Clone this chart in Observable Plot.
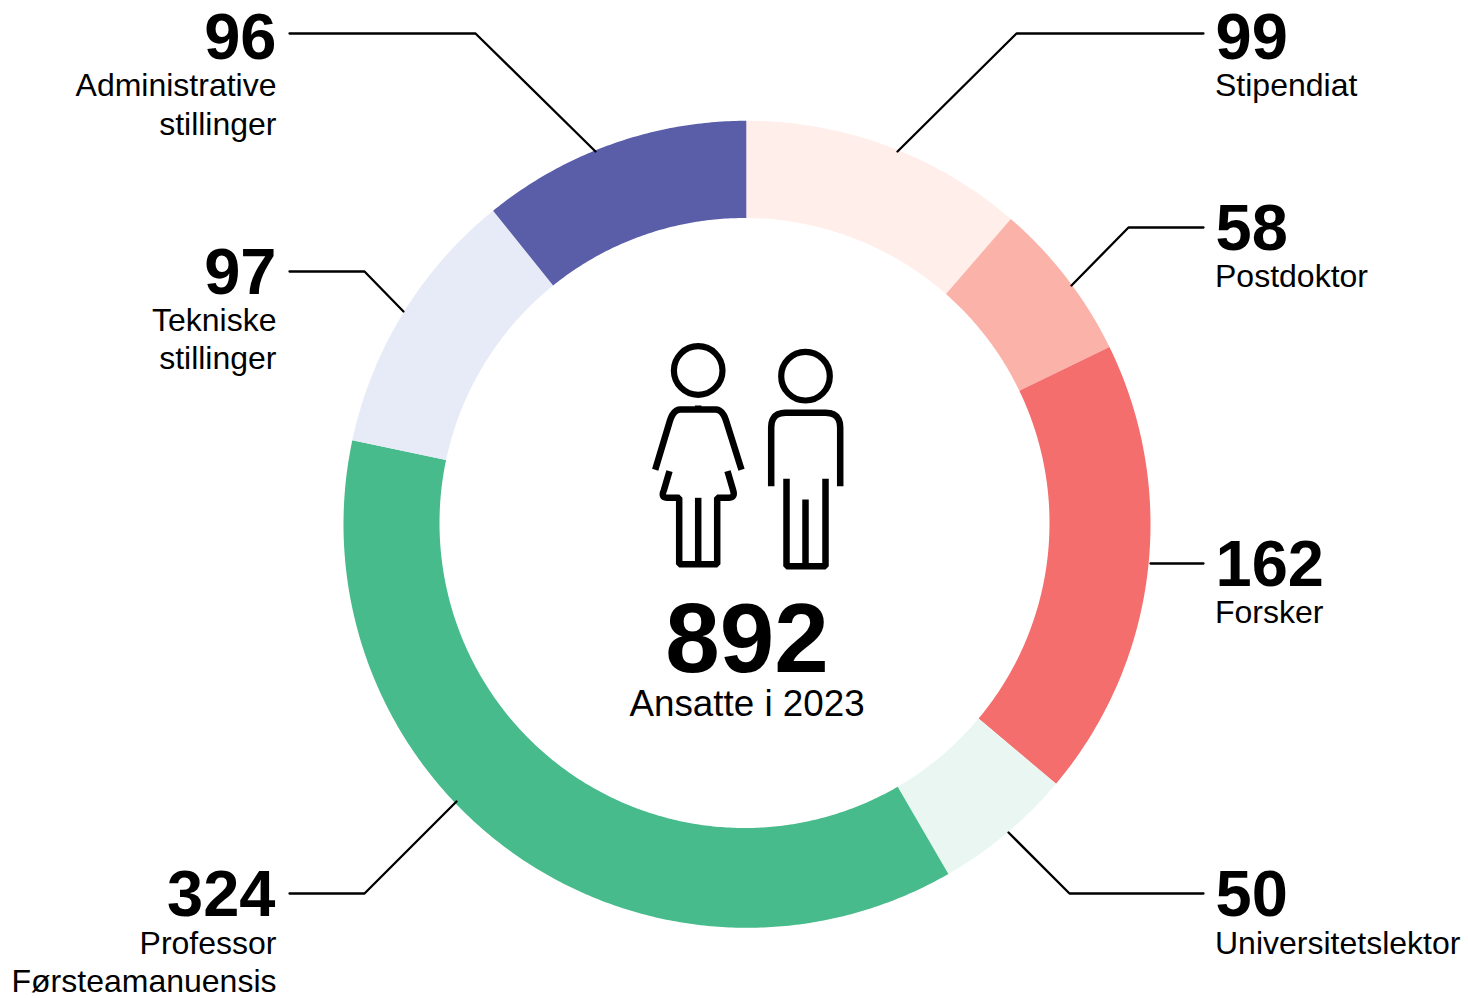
<!DOCTYPE html>
<html lang="no">
<head>
<meta charset="utf-8">
<style>html,body{margin:0;padding:0;background:#fff;overflow:hidden}svg{display:block}</style>
<script src="https://cdn.jsdelivr.net/npm/d3@7"></script>
<script src="https://cdn.jsdelivr.net/npm/@observablehq/plot@0.6"></script>
</head>
<body>
<script>
// Data, clockwise from twelve o'clock
const categories = ["Stipendiat","Postdoktor","Forsker","Universitetslektor","Professor Førsteamanuensis","Tekniske stillinger","Administrative stillinger"];
const values = [99,58,162,50,324,97,96];
const colours = ["#ffeeea","#fab2a9","#f56e6e","#e9f6f1","#47bb8b","#e7eaf7","#5a5da8"];
const totalValue = 892;
const totalLabel = "Ansatte i 2023";

// Label layout
const labelLines = [["Stipendiat"],["Postdoktor"],["Forsker"],["Universitetslektor"],["Professor","Førsteamanuensis"],["Tekniske","stillinger"],["Administrative","stillinger"]];
const labelX = [1214.5,1214.5,1214.5,1214.5,276,276,276];
const numberX = [1215,1215,1215,1215,275,276,276];
const labelAnchor = ["start","start","start","start","end","end","end"];
const numberBaseline = [58,249,585,915,915,293,58];
const firstLabelBaseline = [95.5,286.5,622.5,953,953,330,95.5];
const labelLeading = 38.5;

// Leader lines
const leaders = [
  [[1203,33],[1016,33],[897,151]],
  [[1203,227],[1128,227],[1071,285]],
  [[1203,563],[1150,563]],
  [[1203,893],[1069,893],[1008,832]],
  [[289,893],[364,893],[456,801]],
  [[289,271],[364,271],[403,311]],
  [[289,33],[475,33],[595,151]]
];

// Ring geometry: the drawn ring has slightly off-centre circles and hand-placed seams
const outerCircle = {x:747, y:524.3, r:403.5};
const innerCircle = {x:744.5, y:523, r:305};
const outerSeamNudge = [-0.1,0.61,0.14,0.40,0.13,0.43,0.01];
const innerSeamNudge = [0.34,1.12,0.51,0.26,-0.08,0.34,0.15];
const total = d3.sum(values);

// Pictogram strokes (x, y); corners are rounded with a quadratic sweep
const heads = [[697.7,370],[805,375.7]];
function rounded(p0,c,p1,n=6){
  const out=[];
  for(let i=0;i<=n;i++){const t=i/n,u=1-t;
    out.push([u*u*p0[0]+2*u*t*c[0]+t*t*p1[0],u*u*p0[1]+2*u*t*c[1]+t*t*p1[1]]);}
  return out;
}
const iconStrokes = [
  // woman: shoulders and arms
  [[654.7,469.3],[669.5,420],...rounded([669.5,420],[673,409],[680,409]),...rounded([715,409],[722,409],[725.5,420]),[741,469.3]],
  [[697.7,405],[697.7,409]],
  // woman: skirt and legs
  [[669,470.7],[663.3,490],...rounded([663.3,490],[660,497.3],[667,497.3]),[678.7,497.3],[678.7,563.7],[716.7,563.7],[716.7,497.3],[728,497.3],...rounded([728,497.3],[735,497.3],[732.7,490]),[727,470.7]],
  [[697.7,497.3],[697.7,563.7]],
  // man: shoulders and arms
  [[770.7,485.7],[770.7,427],...rounded([770.7,427],[770.7,412.3],[785,412.3]),[825,412.3],...rounded([825,412.3],[839.7,412.3],[839.7,427]),[839.7,485.7]],
  // man: legs
  [[786,478.3],[786,565.7],[825,565.7],[825,478.3]],
  [[805,499],[805,565.7]]
];

// Derived tables
const rad = Math.PI/180;
let acc = 0;
const ring = [];
categories.forEach((category,i)=>{
  const base0 = acc/total*360, base1 = (acc+values[i])/total*360;
  acc += values[i];
  const next = (i+1)%categories.length;
  const o0 = base0+outerSeamNudge[i], o1 = base1+outerSeamNudge[next];
  const n0 = base0+innerSeamNudge[i], n1 = base1+innerSeamNudge[next];
  const steps = Math.max(2,Math.ceil((base1-base0)/0.5));
  for(let s=0;s<=steps;s++){
    const f = s/steps, ao = (o0+(o1-o0)*f)*rad, ai = (n0+(n1-n0)*f)*rad;
    ring.push({category,
      x1:innerCircle.x+innerCircle.r*Math.sin(ai),y1:innerCircle.y-innerCircle.r*Math.cos(ai),
      x2:outerCircle.x+outerCircle.r*Math.sin(ao),y2:outerCircle.y-outerCircle.r*Math.cos(ao)});
  }
});
const leaderRows = leaders.flatMap((pts,i)=>pts.map(([x,y])=>({i,x,y})));
const iconRows = iconStrokes.flatMap((pts,i)=>pts.map(([x,y])=>({i,x,y})));
const numberRows = categories.map((c,i)=>({t:String(values[i]),x:numberX[i],y:numberBaseline[i],anchor:labelAnchor[i]}));
const labelRows = labelLines.flatMap((ls,i)=>ls.map((t,j)=>({t,x:labelX[i],y:firstLabelBaseline[i]+j*labelLeading,anchor:labelAnchor[i]})));

const font = "'Liberation Sans', Arial, Helvetica, sans-serif";
const textBy = (rows,anchor,size,weight)=>Plot.text(rows.filter(r=>r.anchor===anchor),{
  x:"x",y:"y",text:"t",textAnchor:anchor,lineAnchor:"bottom",fontSize:size,fontWeight:weight,fontFamily:font,fill:"#000"});

const chart = Plot.plot({
  width:1468,height:998,margin:0,
  style:{background:"#fff"},
  x:{domain:[0,1468],range:[0,1468],axis:null},
  y:{domain:[0,998],range:[0,998],axis:null},
  color:{domain:categories,range:colours},
  marks:[
    Plot.area(ring,{x1:"x1",y1:"y1",x2:"x2",y2:"y2",fill:"category",z:"category"}),
    Plot.line(leaderRows,{x:"x",y:"y",z:"i",stroke:"#000",strokeWidth:2.3,strokeLinejoin:"miter"}),
    Plot.line(iconRows,{x:"x",y:"y",z:"i",stroke:"#000",strokeWidth:6.5,strokeLinecap:"butt",strokeLinejoin:"miter"}),
    Plot.dot(heads,{x:d=>d[0],y:d=>d[1],r:24.3,stroke:"#000",strokeWidth:6.2,fill:"none"}),
    textBy(numberRows,"start",65,700),
    textBy(numberRows,"end",65,700),
    textBy(labelRows,"start",32,400),
    textBy(labelRows,"end",32,400),
    Plot.text([String(totalValue)],{x:()=>746.5,y:()=>671,text:d=>d,textAnchor:"middle",lineAnchor:"bottom",fontSize:98,fontWeight:700,fontFamily:font,fill:"#000"}),
    Plot.text([totalLabel],{x:()=>746.5,y:()=>715,text:d=>d,textAnchor:"middle",lineAnchor:"bottom",fontSize:36.8,fontWeight:400,fontFamily:font,fill:"#000"})
  ]
});
document.body.appendChild(chart);
</script>
</body>
</html>
